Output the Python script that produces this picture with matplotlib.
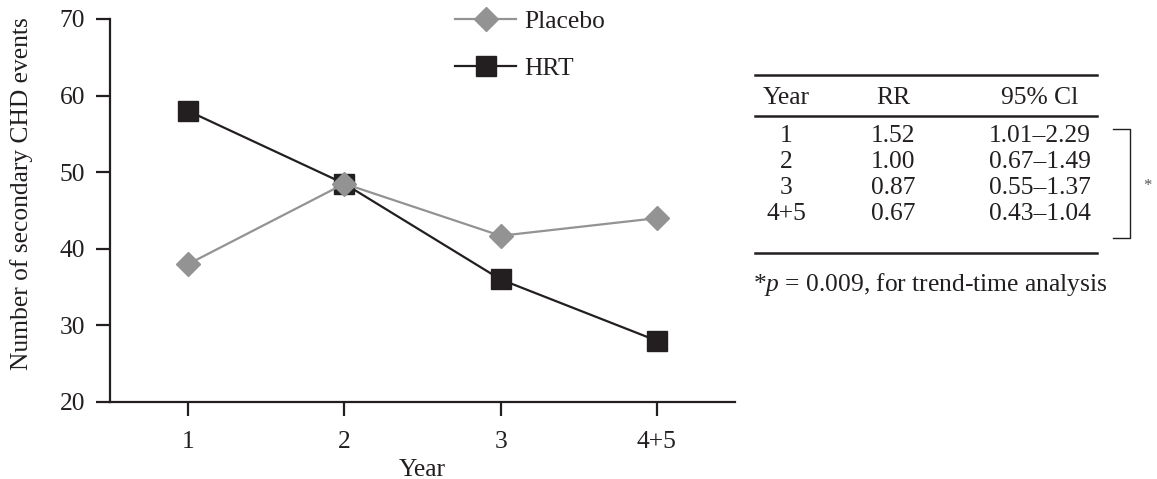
import numpy as np
import matplotlib.pyplot as plt
from matplotlib.lines import Line2D

plt.rcParams["font.family"] = ["Liberation Serif", "DejaVu Serif"]
plt.rcParams["mathtext.fontset"] = "custom"
plt.rcParams["mathtext.rm"] = "Liberation Serif"
plt.rcParams["mathtext.it"] = "Liberation Serif:italic"

# ------------------------------------------------------------
# Data
# ------------------------------------------------------------

years = ["1", "2", "3", "4+5"]
placebo_events = [38, 48.5, 41.7, 44]
hrt_events = [58, 48.5, 36, 28]

table_header = ["Year", "RR", "95% Cl"]
table_years = ["1", "2", "3", "4+5"]
table_rr = ["1.52", "1.00", "0.87", "0.67"]
table_ci = ["1.01\u20132.29", "0.67\u20131.49", "0.55\u20131.37", "0.43\u20131.04"]
footnote = "*$p$ = 0.009, for trend-time analysis"

GREY = "#939393"
DARK = "#231f20"
FS = 18.4

# ------------------------------------------------------------
# Line chart
# ------------------------------------------------------------

W, H = 1157, 479
fig = plt.figure(figsize=(W / 100, H / 100), dpi=100)
ax = fig.add_axes([110 / W, 1 - 402 / H, (735 - 110) / W, (402 - 19) / H])

x = np.arange(1, len(years) + 1)
ax.plot(x, placebo_events, color=GREY, lw=1.6, marker="D", ms=12,
        mfc=GREY, mec=GREY, zorder=3, label="Placebo")
ax.plot(x, hrt_events, color=DARK, lw=1.6, marker="s", ms=14,
        mfc=DARK, mec=DARK, zorder=2, label="HRT")

ax.set_xlim(0.5, 4.5)
ax.set_ylim(20, 70)
ax.set_xticks(x)
ax.set_xticklabels(years)
ax.set_yticks(np.arange(20, 71, 10))

for side in ["top", "right"]:
    ax.spines[side].set_visible(False)
for side in ["left", "bottom"]:
    ax.spines[side].set_linewidth(1.6)
    ax.spines[side].set_color(DARK)

ax.tick_params(axis="both", direction="out", length=10, width=1.6,
               color=DARK, labelsize=FS, labelcolor=DARK)
ax.tick_params(axis="x", pad=11)
ax.tick_params(axis="y", pad=8)

ax.set_xlabel("Year", fontsize=FS, color=DARK, labelpad=4)
fig.text(22 / W, 1 - 194 / H, "Number of secondary CHD events",
         rotation=90, ha="center", va="center", fontsize=FS, color=DARK)

handles = [
    Line2D([], [], color=GREY, lw=1.6, marker="D", ms=12, mfc=GREY, mec=GREY),
    Line2D([], [], color=DARK, lw=1.6, marker="s", ms=14, mfc=DARK, mec=DARK),
]
fig.legend(handles, ["Placebo", "HRT"], loc="upper left",
           bbox_to_anchor=(455 / W, 1 - 10 / H), frameon=False, fontsize=FS,
           handlelength=2.4, handletextpad=0.3, labelspacing=0.95,
           borderpad=0, borderaxespad=0, labelcolor=DARK)

# ------------------------------------------------------------
# Relative risk table
# ------------------------------------------------------------

def fx(px):
    return px / W

def fy(py):
    return 1 - py / H

col_x = [786, 893, 1040]
rule_l, rule_r = 755, 1097

for py in [75, 116, 253]:
    fig.add_artist(Line2D([fx(rule_l), fx(rule_r)], [fy(py), fy(py)],
                          color=DARK, lw=1.8))

for cx, label in zip(col_x, table_header):
    fig.text(fx(cx), fy(98), label, ha="center", va="center",
             fontsize=FS, color=DARK)

row_y = [136, 162, 188, 214]
for ry, yr, rr, ci in zip(row_y, table_years, table_rr, table_ci):
    for cx, label in zip(col_x, [yr, rr, ci]):
        fig.text(fx(cx), fy(ry), label, ha="center", va="center",
                 fontsize=FS, color=DARK)

# bracket linking the rows to the trend test
fig.add_artist(Line2D([fx(1113), fx(1130), fx(1130), fx(1113)],
                      [fy(129), fy(129), fy(238), fy(238)],
                      color=DARK, lw=1.0))
fig.text(fx(1147), fy(186), "*", ha="center", va="center",
         fontsize=12, color="#555555")

fig.text(fx(753), fy(285), footnote, ha="left", va="center",
         fontsize=FS, color=DARK)

fig.savefig("out.png", dpi=100)
